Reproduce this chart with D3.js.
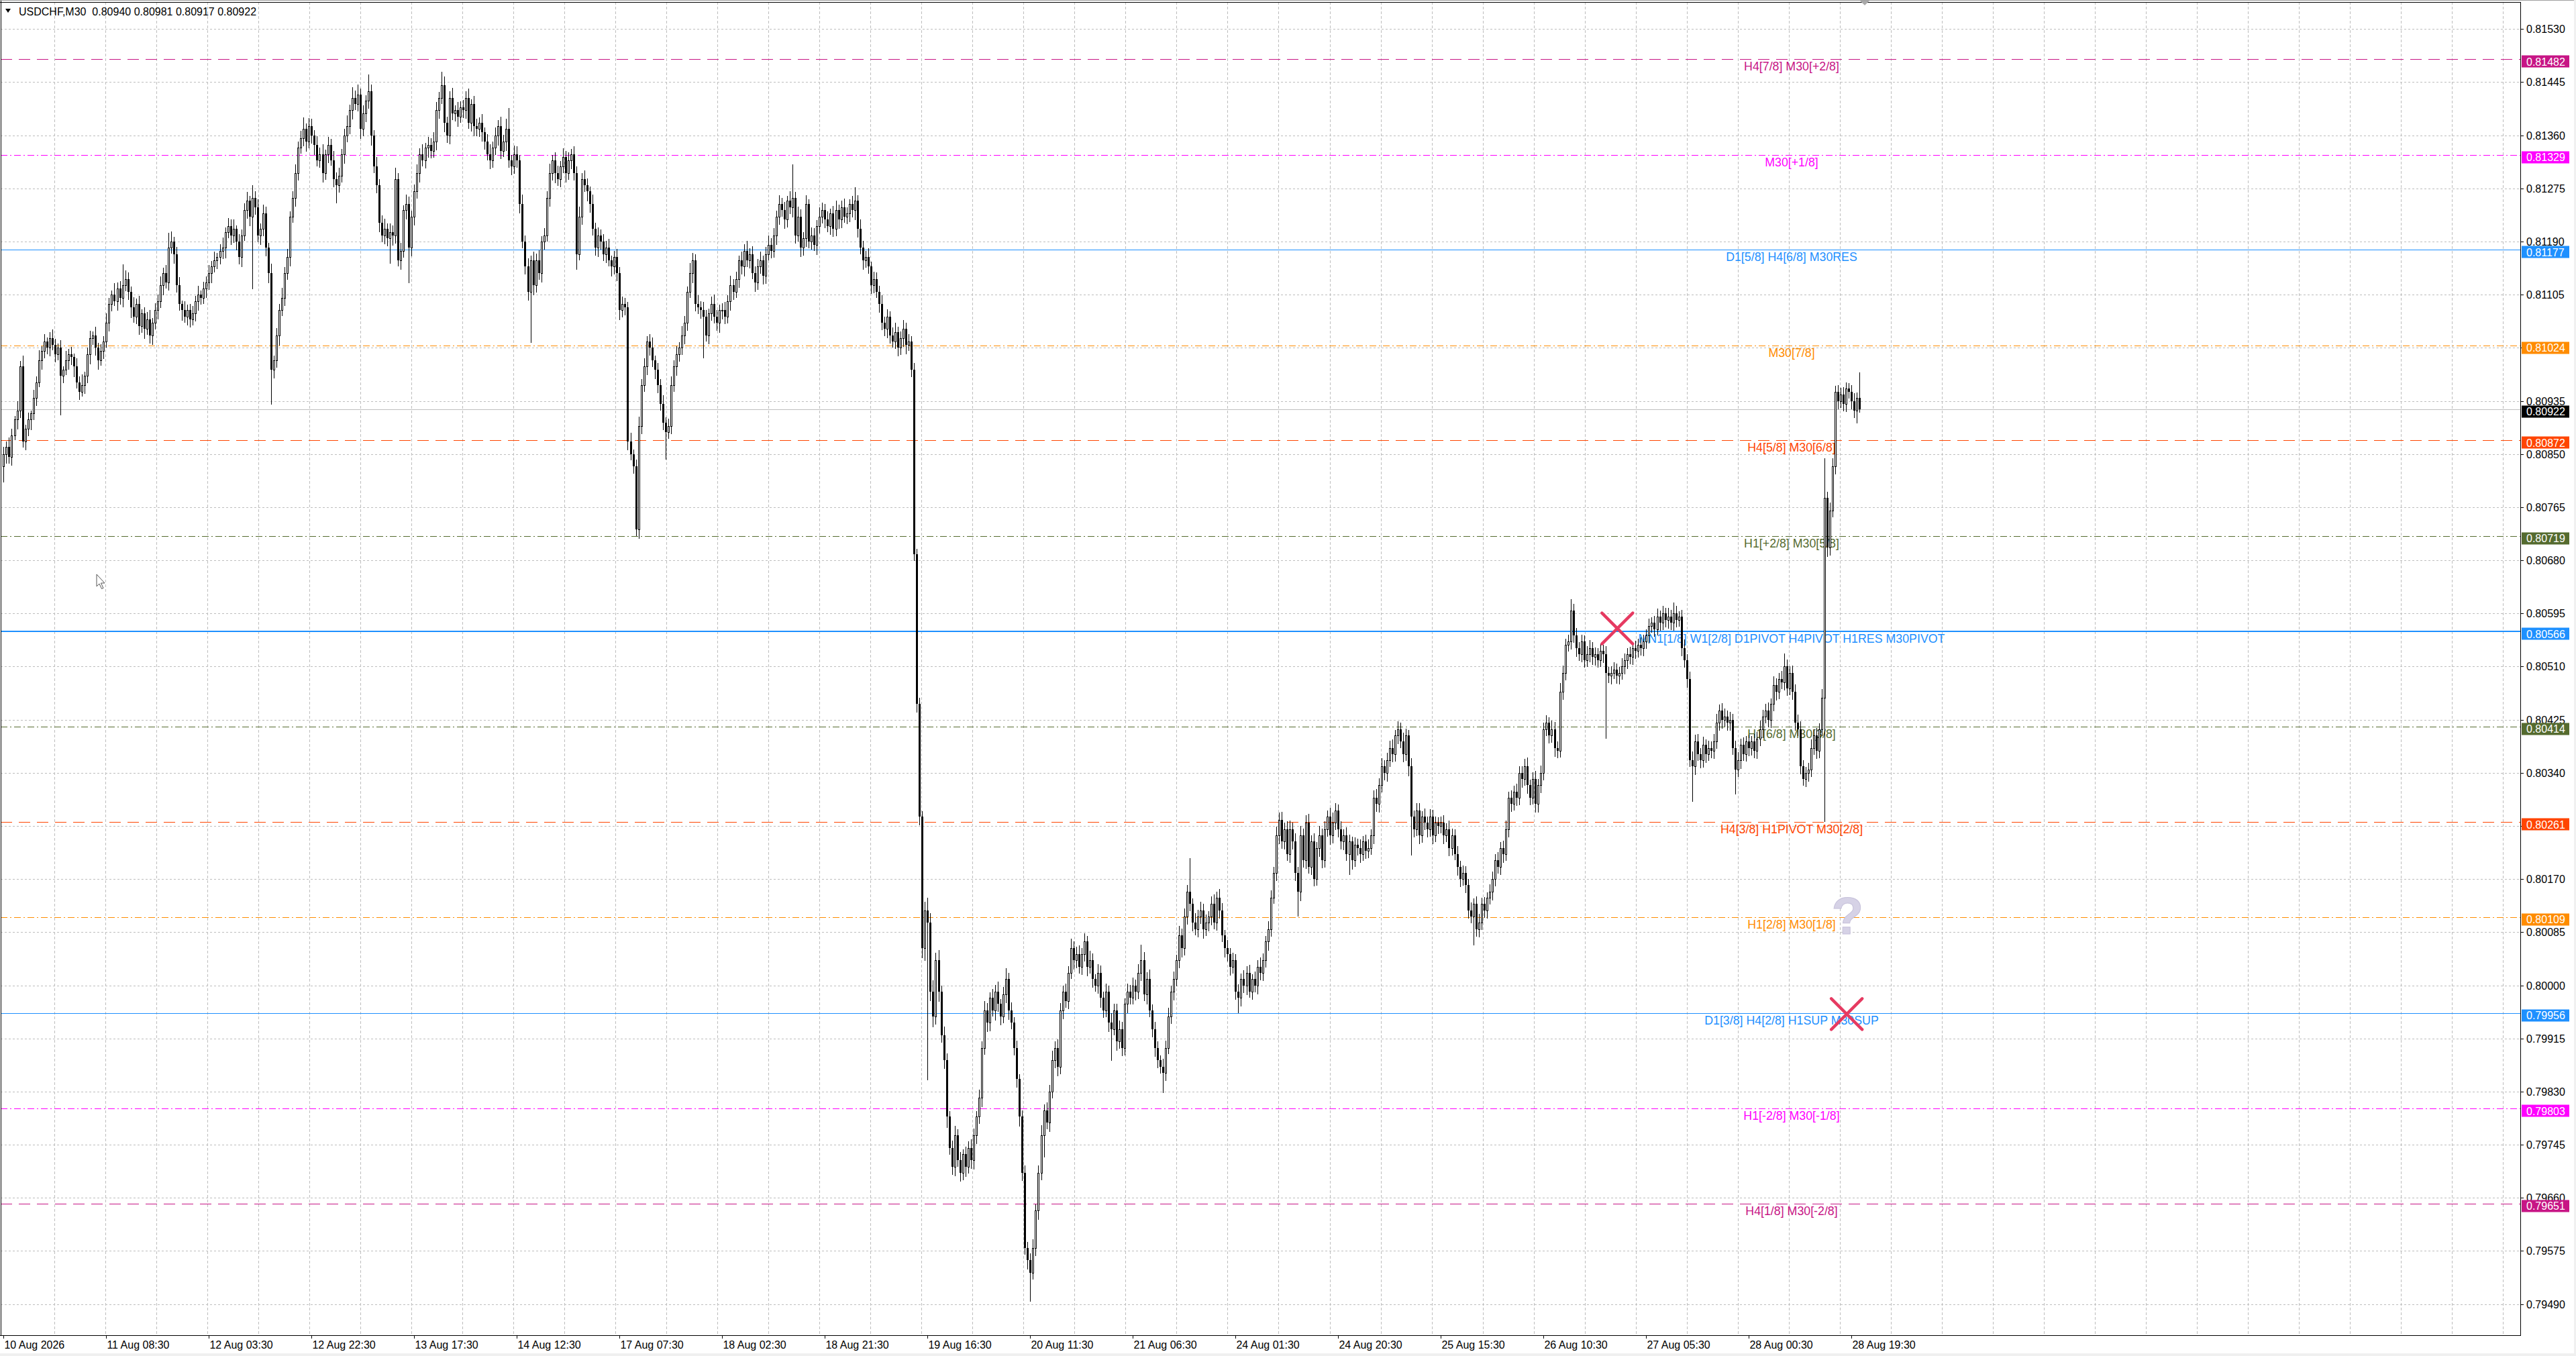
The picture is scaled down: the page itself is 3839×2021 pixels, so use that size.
<!DOCTYPE html>
<html>
<head>
<meta charset="utf-8">
<script src="https://cdn.jsdelivr.net/npm/d3@7"></script>
<style>
html, body { margin: 0; padding: 0; background: #f0f0f0; }
svg { display: block; }
text { font-family: "Liberation Sans", Arial, sans-serif; }
</style>
</head>
<body>
<div id="chart"></div>
<script>
// chart title line (symbol, timeframe, last bar OHLC)
var titleText = "USDCHF,M30  0.80940 0.80981 0.80917 0.80922";

// M30 closes in 1e-5 units, one row = 19 bars (half a label step)
var firstOpen = 80830;
var closeVals = [
  80850, 80862, 80845, 80880, 80905, 80920, 80990, 80870, 80890, 80905, 80915, 80940, 80965, 81000, 81015, 81030, 81020, 81035, 81025,
  81010, 81020, 80975, 80985, 81000, 81010, 81005, 80990, 80965, 80950, 80960, 80975, 81010, 81035, 81040, 81020, 81000, 81015, 81030,
  81060, 81090, 81105, 81095, 81115, 81100, 81120, 81130, 81110, 81085, 81070, 81090, 81055, 81075, 81050, 81065, 81040, 81060, 81080,
  81095, 81120, 81140, 81125, 81180, 81190, 81170, 81120, 81090, 81080, 81070, 81080, 81065, 81075, 81095, 81105, 81100, 81115, 81125,
  81140, 81150, 81160, 81165, 81175, 81180, 81205, 81215, 81200, 81210, 81190, 81165, 81200, 81240, 81255, 81230, 81260, 81245, 81200,
  81210, 81235, 81180, 81140, 80985, 81000, 81040, 81080, 81100, 81140, 81165, 81230, 81260, 81300, 81340, 81355, 81370, 81350, 81375,
  81360, 81345, 81320, 81330, 81300, 81330, 81345, 81320, 81290, 81280, 81295, 81330, 81360, 81375, 81400, 81420, 81410, 81425, 81370,
  81395, 81415, 81430, 81360, 81310, 81280, 81220, 81200, 81210, 81195, 81205, 81200, 81290, 81160, 81175, 81240, 81250, 81180, 81230,
  81270, 81300, 81330, 81320, 81340, 81345, 81335, 81350, 81400, 81420, 81440, 81380, 81360, 81420, 81395, 81400, 81390, 81405, 81400,
  81420, 81380, 81410, 81375, 81370, 81380, 81365, 81350, 81330, 81320, 81340, 81360, 81375, 81335, 81350, 81370, 81320, 81310, 81330,
  81320, 81250, 81190, 81150, 81110, 81160, 81120, 81160, 81140, 81190, 81200, 81260, 81300, 81320, 81300, 81290, 81310, 81325, 81300,
  81320, 81330, 81300, 81170, 81230, 81290, 81280, 81270, 81250, 81210, 81180, 81200, 81190, 81170, 81180, 81160, 81150, 81165, 81140,
  81080, 81090, 81085, 80870, 80850, 80830, 80730, 80895, 80960, 80990, 81030, 81020, 81000, 80985, 80960, 80930, 80900, 80885, 80895,
  80960, 80990, 81010, 81020, 81040, 81060, 81110, 81140, 81160, 81090, 81085, 81080, 81070, 81040, 81075, 81090, 81070, 81060, 81080,
  81080, 81070, 81095, 81120, 81110, 81130, 81160, 81150, 81175, 81160, 81170, 81140, 81125, 81150, 81160, 81135, 81170, 81185, 81175,
  81200, 81230, 81250, 81240, 81225, 81255, 81245, 81260, 81200, 81230, 81180, 81195, 81250, 81190, 81200, 81185, 81215, 81230, 81240,
  81225, 81215, 81235, 81210, 81240, 81225, 81245, 81230, 81235, 81250, 81240, 81255, 81210, 81180, 81160, 81165, 81150, 81120, 81130,
  81110, 81090, 81060, 81050, 81070, 81040, 81030, 81045, 81020, 81035, 81050, 81025, 81030, 80985, 80690, 80450, 80270, 80060, 80120,
  80100, 79990, 79950, 80040, 79990, 79920, 79880, 79790, 79740, 79710, 79760, 79720, 79700, 79730, 79710, 79740, 79720, 79760, 79790,
  79820, 79900, 79960, 79940, 79980, 79960, 79990, 79970, 79950, 79985, 80010, 79960, 79940, 79900, 79850, 79790, 79700, 79580, 79560,
  79540, 79580, 79640, 79700, 79760, 79800, 79780, 79830, 79880, 79900, 79870, 79960, 79990, 79975, 80020, 80060, 80040, 80050, 80030,
  80050, 80070, 80030, 80040, 80010, 80000, 80020, 79980, 79960, 79990, 79940, 79930, 79960, 79910, 79930, 79900, 79970, 79990, 79980,
  80000, 79990, 80020, 80040, 79985, 80010, 79960, 79930, 79900, 79880, 79870, 79860, 79900, 79950, 79990, 80010, 80040, 80080, 80060,
  80110, 80150, 80130, 80100, 80090, 80110, 80120, 80090, 80100, 80110, 80130, 80100, 80140, 80120, 80080, 80060, 80050, 80030, 80040,
  79990, 79980, 80010, 80000, 80020, 79990, 80010, 80000, 80030, 80020, 80040, 80070, 80090, 80140, 80180, 80240, 80265, 80230, 80250,
  80210, 80250, 80230, 80180, 80150, 80240, 80200, 80260, 80190, 80230, 80170, 80220, 80240, 80200, 80250, 80270, 80240, 80260, 80280,
  80250, 80230, 80240, 80210, 80230, 80200, 80225, 80220, 80210, 80230, 80215, 80220, 80240, 80300, 80290, 80320, 80350, 80340, 80360,
  80380, 80370, 80400, 80410, 80390, 80370, 80400, 80350, 80270, 80250, 80280, 80240, 80270, 80260, 80250, 80270, 80240, 80260, 80255,
  80260, 80240, 80250, 80220, 80240, 80210, 80190, 80170, 80180, 80160, 80120, 80110, 80130, 80090, 80100, 80130, 80120, 80140, 80150,
  80170, 80200, 80190, 80220, 80210, 80250, 80300, 80290, 80310, 80300, 80340, 80330, 80350, 80320, 80300, 80330, 80290, 80320, 80340,
  80410, 80420, 80400, 80410, 80380, 80375, 80470, 80500, 80545, 80550, 80600, 80560, 80540, 80530, 80550, 80520, 80530, 80540, 80525,
  80530, 80520, 80535, 80530, 80500, 80495, 80500, 80505, 80495, 80500, 80510, 80520, 80530, 80525, 80540, 80535, 80545, 80540, 80550,
  80560, 80575, 80580, 80570, 80590, 80580, 80595, 80585, 80590, 80580, 80595, 80585, 80590, 80540, 80520, 80490, 80360, 80350, 80390,
  80370, 80360, 80385, 80370, 80380, 80375, 80390, 80420, 80440, 80425, 80430, 80420, 80425, 80380, 80345, 80360, 80385, 80370, 80390,
  80380, 80390, 80375, 80395, 80410, 80430, 80440, 80425, 80450, 80480, 80470, 80490, 80485, 80510, 80475, 80500, 80470, 80420, 80410,
  80350, 80330, 80340, 80345, 80380, 80400, 80375, 80410, 80460, 80780, 80700, 80760, 80830, 80950, 80935, 80945, 80930, 80955, 80950,
  80935, 80920, 80940, 80922
];

// ordinary upper / lower shadow lengths (1e-5 units)
var wickUp = [
  12,8,15,10,6,14,9,18,7,11,5,13,9,16,8,12,6,10,14,
  9,7,12,5,15,8,11,6,13,9,17,7,10,12,6,14,8,11,9,
  15,10,7,18,9,12,6,14,11,8,16,9,13,7,10,12,15,8,11,
  10,14,8,12,9,16,7,11,13,6,15,9,10,12,8,14,7,11,9,
  12,9,14,7,11,16,8,13,10,15,6,12,9,11,14,8,16,10,13,
  9,14,11,8,15,7,12,10,16,9,13,8,11,14,10,12,17,9,13,
  11,8,14,10,16,7,12,9,15,11,13,8,10,17,9,14,12,16,10,
  13,9,14,11,8,15,10,12,16,9,14,11,18,10,13,8,15,12,9,
  11,14,9,16,8,12,10,15,13,9,12,14,10,11,16,8,13,9,12,
  10,15,8,13,11,9,14,7,12,16,10,13,9,15,11,17,12,8,14,
  12,9,15,10,13,8,14,11,16,9,12,10,15,8,13,11,9,14,10,
  13,8,12,10,16,9,14,11,8,15,10,13,9,12,11,14,8,10,13,
  9,12,10,8,14,7,11,15,10,13,9,12,16,8,11,10,14,9,12,
  14,10,13,9,15,11,8,16,12,10,14,9,13,11,8,12,15,10,9,
  11,13,9,15,10,12,8,14,11,16,9,13,10,12,14,8,11,15,10,
  12,9,14,10,13,8,15,11,9,16,12,10,14,8,13,11,9,15,12,
  10,13,8,12,15,9,11,14,10,8,13,12,9,15,11,10,14,8,12,
  11,9,14,10,12,8,13,15,9,11,14,10,12,9,11,8,10,9,14,
  20,15,18,12,16,10,14,11,9,12,15,10,13,8,12,10,14,11,9,
  13,10,15,12,9,14,11,16,8,12,17,10,13,9,11,8,10,12,9,
  11,14,10,12,16,9,13,11,15,10,14,12,9,13,11,15,10,12,14,
  10,13,9,15,11,8,14,12,10,13,9,16,11,10,14,12,9,13,11,
  12,9,14,10,13,11,15,9,12,10,8,13,11,14,10,12,9,15,11,
  13,10,12,9,15,11,14,10,13,9,12,16,10,14,11,9,13,10,12,
  10,12,9,14,11,13,8,12,10,15,11,9,13,12,10,14,11,12,10,
  12,14,10,13,9,15,11,12,14,10,13,9,15,11,12,10,14,16,11,
  9,12,10,13,11,8,12,10,14,9,11,13,10,12,14,11,13,10,12,
  11,13,9,12,10,14,11,9,13,10,12,11,9,13,10,12,11,10,9,
  10,12,9,14,11,10,13,9,12,11,10,13,9,12,14,10,11,9,12,
  12,10,13,9,11,14,10,12,9,13,11,10,12,14,9,11,13,10,12,
  10,12,9,13,11,10,14,12,9,11,13,10,12,9,11,10,13,12,9,
  11,9,12,10,13,9,11,12,10,9,13,11,10,12,9,11,10,12,11,
  10,12,9,11,13,10,12,9,14,11,10,12,9,11,13,10,12,14,11,
  12,10,13,9,11,10,12,14,9,11,13,10,12,9,11,13,10,12,9,
  11,9,12,10,13,11,10,12,9,14,11,10,13,9,11,10,12,11,13,
  12,10,9,11,13,10,12,9,14,11,10,12,13,9,10,11,12,10,9,
  10,12,9,41
];
var wickDn = [
  10,14,9,12,7,15,11,8,13,10,16,9,12,7,14,11,9,13,8,
  12,9,13,10,8,14,11,16,9,12,7,13,10,15,9,11,14,8,12,
  9,13,11,7,15,10,14,8,12,16,9,11,13,10,15,8,12,14,10,
  13,10,15,9,12,8,14,11,10,16,9,13,11,8,12,15,10,9,14,
  11,15,8,13,10,12,16,9,14,11,13,10,15,8,12,14,9,11,10,
  14,10,12,16,9,13,11,15,8,12,10,14,9,13,11,8,12,15,10,
  12,15,9,11,14,10,13,8,12,16,11,9,14,10,12,13,9,11,15,
  10,13,11,15,9,12,14,10,13,11,8,15,12,9,14,10,13,11,12,
  13,10,14,9,12,15,11,10,13,12,9,14,11,13,10,12,15,9,11,
  12,9,13,15,10,11,14,12,9,13,11,10,15,12,9,14,11,13,10,
  11,14,10,12,13,9,15,11,10,14,12,9,13,11,15,10,12,9,14,
  10,13,11,14,9,12,10,15,13,9,11,14,12,10,13,9,15,11,12,
  14,10,12,13,9,10,11,14,12,9,13,11,10,14,12,9,11,13,10,
  12,9,14,11,10,13,12,9,15,11,10,12,14,9,13,11,10,12,15,
  13,11,10,14,12,9,13,11,15,10,12,9,14,11,10,13,12,9,11,
  10,14,12,9,13,11,10,15,12,9,14,11,13,10,12,9,15,11,10,
  12,9,13,11,10,14,12,9,11,13,10,15,12,9,14,11,10,13,12,
  9,13,11,10,14,12,9,11,13,10,12,14,9,11,10,12,13,15,20,
  18,14,16,12,15,11,13,17,10,12,14,9,13,11,15,10,12,14,13,
  11,14,10,13,12,9,15,11,13,10,12,14,9,11,13,15,12,10,14,
  13,10,12,14,11,15,9,13,10,12,14,11,13,10,12,9,14,11,10,
  12,11,14,10,13,9,12,15,11,10,13,12,9,14,10,12,11,13,10,
  10,13,11,12,9,14,10,12,13,11,10,14,12,9,11,13,10,12,14,
  11,12,10,13,9,12,11,14,10,12,13,9,11,12,10,14,11,13,10,
  12,10,13,11,14,9,12,10,13,11,12,10,14,11,9,12,13,10,12,
  10,13,11,12,9,14,11,13,10,12,11,9,13,12,10,11,14,12,10,
  12,11,13,10,12,14,9,11,13,10,12,11,10,13,11,12,10,11,13,
  10,12,11,13,9,12,10,14,11,12,10,13,11,10,12,11,13,10,12,
  11,13,10,12,11,9,13,12,10,11,12,10,13,11,12,10,11,12,10,
  13,11,10,12,13,10,12,11,9,12,11,13,10,12,11,10,12,13,11,
  11,10,12,11,13,10,9,12,11,10,12,11,13,10,12,11,10,12,11,
  12,11,10,13,11,10,12,9,11,12,10,11,13,10,11,12,10,11,12,
  11,12,10,11,9,12,10,11,13,10,12,11,10,12,11,13,10,11,12,
  10,12,11,13,10,11,12,10,11,13,10,12,11,10,12,11,13,10,11,
  12,11,10,12,11,13,10,11,12,10,13,11,10,12,11,10,12,11,10,
  11,10,12,13,11,10,12,11,10,12,13,11,10,11,12,10,11,12,10,
  12,11,20,5
];

// long shadows: [bar index, price in 1e-5]
var spikeHighs = [[44, 81153], [61, 81204], [92, 81280], [111, 81389], [129, 81437], [135, 81457],
  [162, 81462], [187, 81404], [292, 81313], [315, 81277], [421, 80065], [439, 80203], [580, 80618],
  [618, 80613], [659, 80531], [674, 80843], [687, 80981]];
var spikeLows = [[0, 80806], [21, 80913], [92, 81115], [99, 80930], [123, 81252], [143, 81156], [150, 81125],
  [195, 81029], [212, 81146], [234, 80720], [245, 80842], [259, 81004], [342, 79849], [380, 79495],
  [385, 79726], [410, 79880], [429, 79829], [457, 79957], [479, 80111], [498, 80178], [521, 80209],
  [544, 80065], [593, 80396], [625, 80295], [641, 80306], [674, 80262], [687, 80917]];

// bottom axis labels, one every 38 bars
var timeLabels = ["10 Aug 2026", "11 Aug 08:30", "12 Aug 03:30", "12 Aug 22:30", "13 Aug 17:30",
  "14 Aug 12:30", "17 Aug 07:30", "18 Aug 02:30", "18 Aug 21:30", "19 Aug 16:30", "20 Aug 11:30",
  "21 Aug 06:30", "24 Aug 01:30", "24 Aug 20:30", "25 Aug 15:30", "26 Aug 10:30", "27 Aug 05:30",
  "28 Aug 00:30", "28 Aug 19:30"];

// right axis labels
var priceTicks = ["0.81530", "0.81445", "0.81360", "0.81275", "0.81190", "0.81105", "0.81020",
  "0.80935", "0.80850", "0.80765", "0.80680", "0.80595", "0.80510", "0.80425", "0.80340",
  "0.80255", "0.80170", "0.80085", "0.80000", "0.79915", "0.79830", "0.79745", "0.79660",
  "0.79575", "0.79490"];

// murrey levels
var levelPrices = ["0.81482", "0.81329", "0.81177", "0.81024", "0.80872", "0.80719", "0.80566",
  "0.80414", "0.80261", "0.80109", "0.79956", "0.79803", "0.79651"];
var levelNames = ["H4[7/8] M30[+2/8]", "M30[+1/8]", "D1[5/8] H4[6/8] M30RES", "M30[7/8]",
  "H4[5/8] M30[6/8]", "H1[+2/8] M30[5/8]", "MN1[1/8] W1[2/8] D1PIVOT H4PIVOT H1RES M30PIVOT",
  "H1[6/8] M30[3/8]", "H4[3/8] H1PIVOT M30[2/8]", "H1[2/8] M30[1/8]",
  "D1[3/8] H4[2/8] H1SUP M30SUP", "H1[-2/8] M30[-1/8]", "H4[1/8] M30[-2/8]"];
var lastPrice = "0.80922";

// chart marks: [bar index, price, kind]
var marks = [[597.3, 0.80571, "x"], [682.2, 0.79954, "x"], [682.5, 0.80113, "?"]];

// ---------------- styles ----------------
var VIOLET = "#c71585", MAGENTA = "#ff00ff", BLUE = "#1e90ff", ORANGE = "#ff8c00",
    RED = "#ff4500", OLIVE = "#556b2f";
var levelStyles = [
  {c: VIOLET, d: "17,10", w: 1}, {c: MAGENTA, d: "10,4,2,4", w: 1}, {c: BLUE, d: null, w: 1},
  {c: ORANGE, d: "10,4,2,4", w: 1}, {c: RED, d: "17,10", w: 1}, {c: OLIVE, d: "10,4,2,4", w: 1},
  {c: BLUE, d: null, w: 2}, {c: OLIVE, d: "10,4,2,4", w: 1}, {c: RED, d: "17,10", w: 1},
  {c: ORANGE, d: "10,4,2,4", w: 1}, {c: BLUE, d: null, w: 1}, {c: MAGENTA, d: "10,4,2,4", w: 1},
  {c: VIOLET, d: "17,10", w: 1}
];

var W = 3839, H = 2021;
var plot = {left: 1, top: 3, right: 3756, bottom: 1990};

if (closeVals.length !== wickUp.length || closeVals.length !== wickDn.length) {
  console.warn("length mismatch", closeVals.length, wickUp.length, wickDn.length);
}

// scales: 38 bars between labels, 0.00085 between price ticks
var x = d3.scaleLinear().domain([0, 38]).range([5.4, 158.4]);
var y = d3.scaleLinear().domain([0.79490, 0.81530]).range([1943.6, 43.3]);

var hiMap = new Map(spikeHighs), loMap = new Map(spikeLows);
var bars = closeVals.map(function (c, i) {
  var o = i ? closeVals[i - 1] : firstOpen;
  var hi = hiMap.has(i) ? hiMap.get(i) : Math.max(o, c) + (wickUp[i] || 0);
  var lo = loMap.has(i) ? loMap.get(i) : Math.min(o, c) - (wickDn[i] || 0);
  return {i: i, o: o / 1e5, c: c / 1e5, h: hi / 1e5, l: lo / 1e5};
});

var svg = d3.select("#chart").append("svg").attr("width", W).attr("height", H);

// window frame
svg.append("rect").attr("width", W).attr("height", H).attr("fill", "#f0f0f0");
svg.append("rect").attr("width", 3836).attr("height", 2017).attr("fill", "#fff");

svg.append("clipPath").attr("id", "plotClip").append("rect")
  .attr("x", plot.left).attr("y", plot.top)
  .attr("width", plot.right - plot.left).attr("height", plot.bottom - plot.top);

// grid
var grid = svg.append("g").attr("shape-rendering", "crispEdges").attr("stroke", "#bdbdbd");
grid.selectAll("line.v").data(d3.range(81, plot.right, 76.02)).enter().append("line")
  .attr("x1", function (d) { return Math.round(d) + 0.5; })
  .attr("x2", function (d) { return Math.round(d) + 0.5; })
  .attr("y1", plot.top).attr("y2", plot.bottom)
  .attr("stroke-dasharray", "4,3");
grid.selectAll("line.h").data(priceTicks).enter().append("line")
  .attr("x1", plot.left).attr("x2", plot.right)
  .attr("y1", function (d) { return Math.round(y(+d)) + 0.5; })
  .attr("y2", function (d) { return Math.round(y(+d)) + 0.5; })
  .attr("stroke-dasharray", "3,3");

// level lines + their captions
var lv = svg.append("g").attr("shape-rendering", "crispEdges");
levelPrices.forEach(function (p, k) {
  var st = levelStyles[k];
  var yy = Math.round(y(+p)) + (st.w === 2 ? 0 : 0.5);
  lv.append("line").attr("x1", plot.left).attr("x2", plot.right)
    .attr("y1", yy).attr("y2", yy)
    .attr("stroke", st.c).attr("stroke-width", st.w)
    .attr("stroke-dasharray", st.d);
  svg.append("text").attr("x", 2670).attr("y", y(+p) + 17)
    .attr("text-anchor", "middle").attr("font-size", 17.8)
    .attr("fill", st.c).text(levelNames[k]);
});

// bid line
lv.append("line").attr("x1", plot.left).attr("x2", plot.right)
  .attr("y1", Math.round(y(+lastPrice)) + 0.5).attr("y2", Math.round(y(+lastPrice)) + 0.5)
  .attr("stroke", "#c0c0c0");

// candles
var cg = svg.append("g").attr("clip-path", "url(#plotClip)").attr("shape-rendering", "crispEdges");
var candle = cg.selectAll("g.bar").data(bars).enter().append("g");
candle.append("line")
  .attr("x1", function (d) { return Math.round(x(d.i)) + 0.5; })
  .attr("x2", function (d) { return Math.round(x(d.i)) + 0.5; })
  .attr("y1", function (d) { return Math.round(y(d.h)); })
  .attr("y2", function (d) { return Math.round(y(d.l)) + 1; })
  .attr("stroke", "#000");
candle.append("rect")
  .attr("x", function (d) { return d.c >= d.o ? Math.round(x(d.i)) - 0.5 : Math.round(x(d.i)) - 1; })
  .attr("width", function (d) { return d.c >= d.o ? 2 : 3; })
  .attr("y", function (d) {
    var t = Math.round(y(Math.max(d.o, d.c)));
    return d.c >= d.o ? t + 0.5 : t;
  })
  .attr("height", function (d) {
    var h = Math.round(y(Math.min(d.o, d.c))) - Math.round(y(Math.max(d.o, d.c)));
    return Math.max(h, 1);
  })
  .attr("fill", function (d) { return d.c >= d.o ? "#fff" : "#000"; })
  .attr("stroke", function (d) { return d.c >= d.o ? "#000" : "none"; });

// marks: crosses and question mark
var mg = svg.append("g");
marks.forEach(function (m) {
  var cx = x(m[0]), cy = y(m[1]);
  if (m[2] === "x") {
    var r = 23;
    mg.append("path")
      .attr("d", "M" + (cx - r) + "," + (cy - r) + "L" + (cx + r) + "," + (cy + r) +
        "M" + (cx + r) + "," + (cy - r) + "L" + (cx - r) + "," + (cy + r))
      .attr("stroke", "#e63a61").attr("stroke-width", 4.5).attr("stroke-linecap", "round")
      .attr("fill", "none");
  } else {
    mg.append("text").attr("x", cx).attr("y", cy + 29)
      .attr("text-anchor", "middle").attr("font-size", 78)
      .attr("font-family", "DejaVu Sans").attr("font-weight", "bold")
      .attr("fill", "#d6d2e6").attr("stroke", "#c6c1da").attr("stroke-width", 1)
      .text("?");
  }
});

// frame & axes
var ax = svg.append("g").attr("shape-rendering", "crispEdges").attr("stroke", "#000");
ax.append("line").attr("x1", plot.right + 0.5).attr("x2", plot.right + 0.5)
  .attr("y1", plot.top).attr("y2", plot.bottom + 1);
ax.append("line").attr("x1", 0).attr("x2", plot.right + 1)
  .attr("y1", plot.bottom + 0.5).attr("y2", plot.bottom + 0.5);
ax.append("line").attr("x1", 0).attr("x2", plot.right + 1)
  .attr("y1", plot.top + 0.5).attr("y2", plot.top + 0.5);
ax.append("line").attr("x1", 1).attr("x2", 1)
  .attr("y1", 0).attr("y2", plot.bottom);
svg.append("line").attr("x1", 0).attr("x2", 3836).attr("y1", 0.5).attr("y2", 0.5)
  .attr("stroke", "#a0a0a0");

// right axis
var yAxis = svg.append("g");
yAxis.selectAll("line").data(priceTicks).enter().append("line")
  .attr("shape-rendering", "crispEdges")
  .attr("x1", plot.right).attr("x2", plot.right + 5)
  .attr("y1", function (d) { return Math.round(y(+d)) + 0.5; })
  .attr("y2", function (d) { return Math.round(y(+d)) + 0.5; })
  .attr("stroke", "#000");
yAxis.selectAll("text").data(priceTicks).enter().append("text")
  .attr("x", 3765).attr("y", function (d) { return y(+d) + 6; })
  .attr("font-size", 16).attr("fill", "#000").text(function (d) { return d; });

// price boxes on the axis
var boxes = levelPrices.map(function (p, k) { return {p: p, c: levelStyles[k].c}; });
boxes.push({p: lastPrice, c: "#000"});
var bx = svg.append("g").selectAll("g").data(boxes).enter().append("g");
bx.append("rect").attr("x", 3758).attr("width", 71).attr("height", 18)
  .attr("y", function (d) { return Math.round(y(+d.p)) - 5.5; })
  .attr("fill", function (d) { return d.c; });
bx.append("text").attr("x", 3765).attr("y", function (d) { return y(+d.p) + 9.5; })
  .attr("font-size", 16).attr("fill", "#fff").text(function (d) { return d.p; });

// bottom axis
var xAxis = svg.append("g");
xAxis.selectAll("line").data(timeLabels).enter().append("line")
  .attr("shape-rendering", "crispEdges")
  .attr("x1", function (d, k) { return Math.round(x(38 * k)) + 0.5; })
  .attr("x2", function (d, k) { return Math.round(x(38 * k)) + 0.5; })
  .attr("y1", plot.bottom).attr("y2", plot.bottom + 5)
  .attr("stroke", "#000");
xAxis.selectAll("text").data(timeLabels).enter().append("text")
  .attr("x", function (d, k) { return x(38 * k) + 1; })
  .attr("y", 2010).attr("font-size", 16).attr("fill", "#000")
  .text(function (d) { return d; });

// title
svg.append("path").attr("d", "M8,13L16,13L12,19Z").attr("fill", "#000");
svg.append("text").attr("x", 28).attr("y", 23).attr("font-size", 16)
  .style("white-space", "pre").text(titleText);

// chart shift marker and mouse pointer
svg.append("path").attr("d", "M2772,1L2786,1L2779,8Z").attr("fill", "#a8a8a8");
svg.append("path")
  .attr("d", "M144,856l0,18l4,-4l3.5,7.5l2.5,-1l-3.5,-7.5l5.5,0z")
  .attr("fill", "#fff").attr("stroke", "#555").attr("stroke-width", 1);
</script>
</body>
